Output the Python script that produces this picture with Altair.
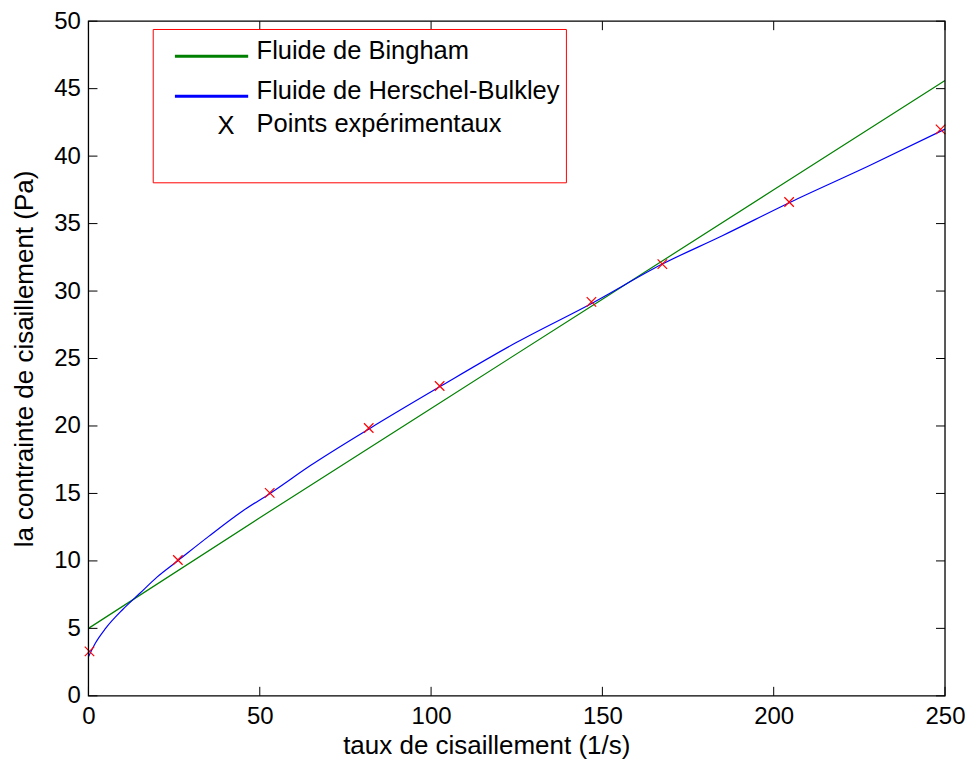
import altair as alt
import pandas as pd

# ---- data ----
exp_x = [0.3, 26.1, 52.9, 81.8, 102.5, 146.8, 167.5, 204.5, 248.7]
exp_y = [3.3, 10.07, 15.04, 19.85, 22.96, 29.2, 32.0, 36.6, 41.98]

hb_x = [0, 2, 5, 10, 15, 20, 26, 35, 45, 53, 65, 82, 102.5, 125, 147, 167.5, 185, 205, 228, 250]
hb_y = [2.9, 3.9, 5.0, 6.4, 7.6, 8.8, 10.0, 11.8, 13.7, 15.0, 17.1, 19.8, 22.9, 26.2, 29.1, 32.0, 34.1, 36.6, 39.3, 42.0]

bing_x = [0, 50, 100, 150, 200, 250]
bing_y = [5.0, 13.2, 21.3, 29.4, 37.5, 45.6]

x_ticks = [0, 50, 100, 150, 200, 250]
y_ticks = [0, 5, 10, 15, 20, 25, 30, 35, 40, 45, 50]

legend_labels = ["Fluide de Bingham", "Fluide de Herschel-Bulkley", "Points expérimentaux"]

FONT = "Liberation Sans"
W, H = 857, 675

exp_df = pd.DataFrame({"g": exp_x, "t": exp_y})
hb_df = pd.DataFrame({"g": hb_x, "t": hb_y})
bing_df = pd.DataFrame({"g": bing_x, "t": bing_y})
xt_df = pd.DataFrame({"g": x_ticks})
yt_df = pd.DataFrame({"t": y_ticks})
one = pd.DataFrame({"a": [0]})

xscale = alt.Scale(domain=[0, 250], nice=False, zero=False)
yscale = alt.Scale(domain=[0, 50], nice=False, zero=False)

xaxis = alt.Axis(values=x_ticks, title="taux de cisaillement (1/s)", grid=False, ticks=False,
                 domain=False, labelPadding=9, titlePadding=4, labelFlush=False,
                 titleX=398, titleAlign="center")
yaxis = alt.Axis(values=y_ticks, title="la contrainte de cisaillement (Pa)", grid=False, ticks=False,
                 domain=False, labelPadding=8, titlePadding=16, labelFlush=False)

X = alt.X("g:Q", scale=xscale, axis=xaxis)
Y = alt.Y("t:Q", scale=yscale, axis=yaxis)

bing = alt.Chart(bing_df).mark_line(color="#008000", strokeWidth=1.2).encode(x=X, y=Y)
hb = alt.Chart(hb_df).mark_line(color="#0000FF", strokeWidth=1.2, interpolate="monotone").encode(x=X, y=Y)
pts = alt.Chart(exp_df).mark_point(shape="M-1,-1L1,1M-1,1L1,-1", size=90, filled=False,
                                   color="#FF0000", strokeWidth=1.2, opacity=1).encode(x=X, y=Y)

TL = 9
tick_b = alt.Chart(xt_df).mark_rule(color="black").encode(x=X, y=alt.value(H), y2=alt.value(H - TL))
tick_t = alt.Chart(xt_df).mark_rule(color="black").encode(x=X, y=alt.value(0), y2=alt.value(TL))
tick_l = alt.Chart(yt_df).mark_rule(color="black").encode(y=Y, x=alt.value(0), x2=alt.value(TL))
tick_r = alt.Chart(yt_df).mark_rule(color="black").encode(y=Y, x=alt.value(W), x2=alt.value(W - TL))

frame = alt.Chart(one).mark_rect(fill="transparent", stroke="black", strokeWidth=1.3).encode(
    x=alt.value(0), x2=alt.value(W), y=alt.value(0), y2=alt.value(H))

# legend box
leg_box = alt.Chart(one).mark_rect(fill="white", stroke="#FF0000", strokeWidth=1).encode(
    x=alt.value(64.8), x2=alt.value(478.2), y=alt.value(8.3), y2=alt.value(161.7))
leg_g = alt.Chart(one).mark_rule(color="#008000", strokeWidth=3).encode(
    x=alt.value(86.5), x2=alt.value(159.8), y=alt.value(35))
leg_b = alt.Chart(one).mark_rule(color="#0000FF", strokeWidth=3).encode(
    x=alt.value(86.5), x2=alt.value(159.8), y=alt.value(75))
LFS = 25.5
leg_t1 = alt.Chart(one).mark_text(text=legend_labels[0], align="left", baseline="alphabetic",
                                  font=FONT, fontSize=LFS, color="black").encode(
    x=alt.value(168.2), y=alt.value(38.3))
leg_t2 = alt.Chart(one).mark_text(text=legend_labels[1], align="left", baseline="alphabetic",
                                  font=FONT, fontSize=LFS, color="black").encode(
    x=alt.value(168.2), y=alt.value(78.3))
leg_t3 = alt.Chart(one).mark_text(text=legend_labels[2], align="left", baseline="alphabetic",
                                  font=FONT, fontSize=LFS, color="black").encode(
    x=alt.value(168.2), y=alt.value(111.3))
leg_x = alt.Chart(one).mark_text(text="X", align="center", baseline="alphabetic",
                                 font=FONT, fontSize=LFS, color="black").encode(
    x=alt.value(137.5), y=alt.value(113))

chart = alt.layer(
    bing, hb, pts, tick_b, tick_t, tick_l, tick_r, frame,
    leg_box, leg_g, leg_b, leg_t1, leg_t2, leg_t3, leg_x
).properties(
    width=W, height=H,
    background="white",
    autosize=alt.AutoSizeParams(type="none"),
    padding={"left": 80.5, "top": 13, "right": 20, "bottom": 64},
).configure_view(
    stroke=None
).configure_axis(
    labelFont=FONT, titleFont=FONT, labelFontSize=24, titleFontSize=26,
    labelColor="black", titleColor="black", titleFontWeight="normal"
)

chart.save("out.html", embed_options={"renderer": "svg", "actions": False})
